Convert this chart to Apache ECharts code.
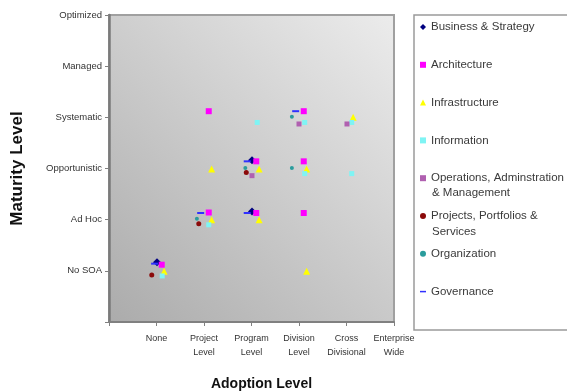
<!DOCTYPE html>
<html>
<head>
<meta charset="utf-8">
<script src="https://cdn.jsdelivr.net/npm/echarts@6/dist/echarts.min.js"></script>
<style>
  html, body { margin: 0; padding: 0; background: #ffffff; }
  #chart { width: 567px; height: 391px; }
</style>
</head>
<body>
<div id="chart"></div>
<script>
// Axis category labels (positions 1..6 on each value axis)
const adoptionLevels = ['None', 'Project\nLevel', 'Program\nLevel', 'Division\nLevel', 'Cross\nDivisional', 'Enterprise\nWide'];
const maturityLevels = ['No SOA', 'Ad Hoc', 'Opportunistic', 'Systematic', 'Managed', 'Optimized'];

// Each point: [adoption level, maturity level], slightly offset per domain so clusters stay readable
const businessStrategy = [[1.01, 1.17], [3.01, 3.16], [3.01, 2.16]];
const architecture = [[1.11, 1.12], [2.10, 4.12], [2.10, 2.14], [3.10, 3.14], [3.10, 2.13], [4.10, 4.12], [4.10, 3.14], [4.10, 2.13]];
const infrastructure = [[1.16, 0.99], [2.16, 2.99], [2.16, 2.00], [3.16, 2.99], [3.16, 2.00], [4.16, 2.99], [4.16, 0.99], [5.14, 4.00]];
const information = [[1.12, 0.90], [2.10, 1.90], [3.12, 3.90], [4.12, 3.90], [4.12, 2.90], [5.11, 3.90], [5.11, 2.90]];
const operations = [[3.01, 2.86], [4.00, 3.87], [5.01, 3.87]];
const projects = [[0.90, 0.92], [1.89, 1.92], [2.89, 2.92]];
const organization = [[1.85, 2.02], [2.87, 3.01], [3.85, 4.01], [3.85, 3.01]];
const governance = [[0.96, 1.14], [1.93, 2.13], [2.91, 3.14], [2.91, 2.13], [3.93, 4.12]];

const seriesDefs = [
  { name: 'Business & Strategy', data: businessStrategy, color: '#000080', symbol: 'diamond', size: 8, icon: 'diamond' },
  { name: 'Architecture', data: architecture, color: '#ff00ff', symbol: 'rect', size: 6, icon: 'rect' },
  { name: 'Infrastructure', data: infrastructure, color: '#ffff00', symbol: 'triangle', size: 7, icon: 'triangle' },
  { name: 'Information', data: information, color: '#7ff4f4', symbol: 'rect', size: 5, icon: 'rect' },
  { name: 'Operations, Adminstration', data: operations, color: '#b060b0', symbol: 'rect', size: 5, icon: 'rect' },
  { name: 'Projects, Portfolios &', data: projects, color: '#8b0a0a', symbol: 'circle', size: 5, icon: 'circle' },
  { name: 'Organization', data: organization, color: '#2a9c9c', symbol: 'circle', size: 4, icon: 'circle' },
  { name: 'Governance', data: governance, color: '#3030ff', symbol: 'rect', size: [7, 2], icon: 'path://M0,0M0,3H8V5H0ZM8,8' }
];

const FONT = '"Liberation Sans", Arial, sans-serif';

const chart = echarts.init(document.getElementById('chart'), null, { renderer: 'canvas' });

chart.setOption({
  backgroundColor: '#ffffff',
  animation: false,
  grid: {
    left: 109, right: 173, top: 15, bottom: 69,
    outerBoundsMode: 'none',
    containLabel: false,
    show: true,
    borderColor: '#a0a0a0',
    borderWidth: 2,
    backgroundColor: new echarts.graphic.LinearGradient(0, 1, 1, 0, [
      { offset: 0, color: '#ababab' },
      { offset: 1, color: '#ececec' }
    ])
  },
  xAxis: {
    type: 'value', min: 0, max: 6, interval: 1,
    name: 'Adoption Level', nameLocation: 'middle', nameGap: 55,
    nameTextStyle: { fontFamily: FONT, fontWeight: 'bold', fontSize: 14, color: '#111', padding: [0, 0, 0, 20] },
    axisLine: { lineStyle: { color: '#808080', width: 2 } },
    axisTick: { inside: false, length: 4, lineStyle: { color: '#808080' } },
    splitLine: { show: false },
    axisLabel: {
      fontFamily: FONT, fontSize: 9, color: '#333', lineHeight: 14, margin: 10,
      formatter: v => (v >= 1 && v <= 6 ? adoptionLevels[v - 1] : '')
    }
  },
  yAxis: {
    type: 'value', min: 0, max: 6, interval: 1,
    name: 'Maturity Level', nameLocation: 'middle', nameGap: 83, nameRotate: 90,
    nameTextStyle: { fontFamily: FONT, fontWeight: 'bold', fontSize: 17, color: '#111' },
    axisLine: { show: true, lineStyle: { color: '#7a7a7a', width: 2.5 } },
    axisTick: { show: true, inside: false, length: 4, lineStyle: { color: '#808080' } },
    splitLine: { show: false },
    axisLabel: {
      fontFamily: FONT, fontSize: 9.5, color: '#333', margin: 7,
      formatter: v => (v >= 1 && v <= 6 ? maturityLevels[v - 1] : '')
    }
  },
  legend: {
    orient: 'vertical',
    left: 420, top: 20,
    itemWidth: 6, itemHeight: 6, itemGap: 23.8,
    padding: 0,
    z: 5,
    textStyle: { fontFamily: FONT, fontSize: 11.5, color: '#3a3a3a', lineHeight: 14 },
    data: seriesDefs.map(s => ({ name: s.name, icon: s.icon, itemStyle: { color: s.color } }))
  },
  graphic: [
    {
      type: 'rect', z: 0,
      shape: { x: 414, y: 15, width: 170, height: 315 },
      style: { fill: '#ffffff', stroke: '#9a9a9a', lineWidth: 1.5 }
    },
    {
      type: 'text', z: 6, left: 432, top: 187,
      style: { text: '& Management', fontFamily: FONT, fontSize: 11.5, fill: '#3a3a3a' }
    },
    {
      type: 'text', z: 6, left: 432, top: 226,
      style: { text: 'Services', fontFamily: FONT, fontSize: 11.5, fill: '#3a3a3a' }
    }
  ],
  series: seriesDefs.map(s => ({
    name: s.name,
    type: 'scatter',
    data: s.data,
    symbol: s.symbol,
    symbolSize: s.size,
    itemStyle: { color: s.color, opacity: 1 },
    z: 3
  }))
});
</script>
</body>
</html>
